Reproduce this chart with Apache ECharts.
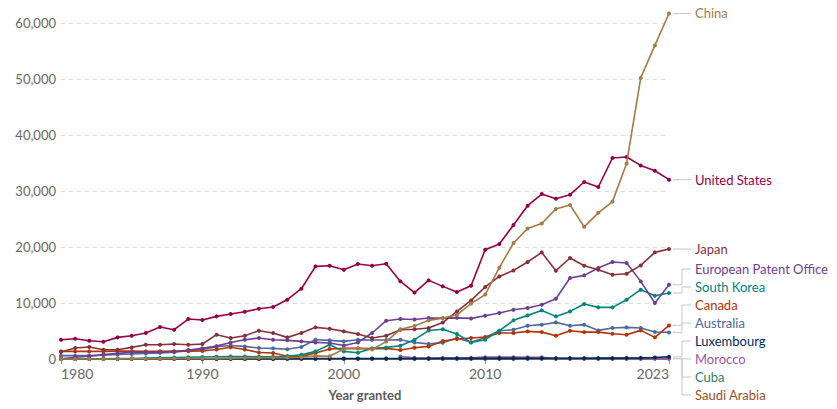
<!DOCTYPE html>
<html>
<head>
<meta charset="utf-8">
<title>Patents granted</title>
<script src="https://cdn.jsdelivr.net/npm/echarts@6/dist/echarts.min.js"></script>
<style>
  html, body { margin: 0; padding: 0; background: #fff; }
  #chart { width: 837px; height: 409px; }
</style>
</head>
<body>
<div id="chart"></div>
<script>
// years 1980 .. 2023
var years = [];
for (var y = 1980; y <= 2023; y++) years.push(y);

var xTicks = [1980, 1990, 2000, 2010, 2023];

var seriesNames = ['China', 'United States', 'Japan', 'European Patent Office', 'South Korea',
  'Canada', 'Australia', 'Luxembourg', 'Morocco', 'Cuba', 'Saudi Arabia'];

var colors = ['#A57A45', '#970046', '#883039', '#6D3E91', '#00847E',
  '#B13507', '#4C6A9C', '#00295B', '#A2559C', '#2C8465', '#9A5129'];

var china = [0, 0, 0, 10, 20, 40, 50, 60, 80, 100,
  100, 120, 150, 180, 200, 220, 250, 300, 550, 500,
  1800, 1900, 1700, 3100, 5300, 5900, 6900, 7300, 7900, 9900,
  11500, 16300, 20700, 23300, 24200, 26800, 27500, 23600, 26100, 28100,
  34900, 50200, 56000, 61700];

var unitedStates = [3450, 3620, 3270, 3090, 3860, 4160, 4640, 5710, 5230, 7140,
  6960, 7610, 8040, 8450, 8980, 9290, 10590, 12550, 16540, 16660,
  15950, 16960, 16660, 17020, 13860, 11850, 14040, 12970, 11960, 13090,
  19520, 20540, 23930, 27380, 29460, 28630, 29340, 31610, 30710, 35890,
  36070, 34570, 33620, 32020];

var japan = [1250, 1960, 2140, 1660, 1660, 2070, 2550, 2550, 2680, 2550,
  2680, 4340, 3750, 4160, 5050, 4640, 3860, 4640, 5650, 5410,
  4930, 4460, 3750, 4160, 5230, 5300, 5530, 6500, 8500, 10460,
  12860, 14750, 15820, 17320, 19040, 15770, 18040, 16660, 15950, 15050,
  15230, 16710, 19040, 19640];

var epo = [50, 300, 500, 800, 1000, 1200, 1200, 1200, 1300, 1600,
  1900, 2300, 2950, 3450, 3750, 3450, 3330, 3150, 2960, 2860,
  2400, 2960, 4640, 6840, 7150, 7050, 7320, 7300, 7350, 7250,
  7730, 8210, 8800, 9110, 9700, 10770, 14460, 14930, 16250, 17320,
  17140, 13860, 10000, 13270];

var southKorea = [0, 0, 0, 50, 80, 100, 150, 200, 250, 300,
  350, 400, 450, 450, 400, 400, 500, 770, 1360, 2550,
  1360, 1130, 1870, 2070, 2380, 3450, 5080, 5300, 4460, 2960,
  3450, 5050, 6900, 7790, 8680, 7610, 8500, 9820, 9220, 9220,
  10590, 12380, 11300, 11790];

var canada = [1360, 1360, 1360, 1360, 1400, 1400, 1360, 1360, 1400, 1400,
  1430, 1700, 2100, 1700, 1150, 1070, 500, 470, 1070, 1790,
  1900, 1900, 1850, 1900, 1600, 2000, 2250, 3200, 3570, 3750,
  3930, 4640, 4640, 4930, 4800, 4160, 5050, 4800, 4800, 4520,
  4340, 5110, 3860, 6000];

var australia = [600, 600, 600, 700, 800, 900, 1000, 1100, 1200, 1500,
  1700, 2200, 2400, 2250, 1960, 1900, 1750, 2140, 3450, 3330,
  3150, 3450, 3400, 3400, 3450, 2960, 2700, 2900, 3750, 3000,
  3860, 5050, 5230, 5950, 6130, 6540, 5950, 6130, 5110, 5530,
  5650, 5530, 4820, 4750];

var luxembourg = [30, 30, 30, 30, 40, 40, 40, 40, 50, 50,
  50, 50, 60, 60, 60, 60, 70, 70, 80, 80,
  80, 90, 90, 100, 100, 100, 100, 110, 110, 110,
  120, 120, 120, 130, 130, 130, 140, 140, 150, 150,
  160, 200, 260, 400];

var morocco = ['-', '-', '-', '-', '-', '-', '-', '-', '-', '-',
  '-', '-', '-', '-', '-', '-', '-', '-', '-', '-',
  '-', '-', '-', '-', 450, 200, 150, 150, 150, 200,
  330, 330, 330, 300, 300, 80, 80, 90, 90, 90,
  100, 100, 110, 120];

var cuba = [20, 20, 20, 20, 20, 20, 30, 30, 30, 30,
  30, 30, 30, 30, 40, 40, 40, 40, 40, 40,
  50, 50, 50, 50, 50, 50, 50, 60, 60, 60,
  60, 60, 60, 60, 70, 70, 70, 70, 70, 70,
  80, 80, 80, 80];

var saudiArabia = [0, 0, 0, 0, 0, 0, 0, 0, 0, 0,
  0, 0, 0, 0, 0, 0, 0, 10, 10, 10,
  10, 10, 10, 10, 20, 20, 20, 20, 20, 20,
  20, 30, 30, 30, 30, 30, 30, 30, 40, 40,
  40, 40, 40, 40];

var seriesValues = [china, unitedStates, japan, epo, southKorea, canada,
  australia, luxembourg, morocco, cuba, saudiArabia];

var FONT = 'Lato, "Noto Sans", sans-serif';
var labelPos = {};

var chart = echarts.init(document.getElementById('chart'), null, { renderer: 'svg' });

function buildSeries() {
  return seriesNames.map(function (name, i) {
    var vals = seriesValues[i];
    var last = vals.length - 1;
    var data = vals.map(function (v, k) {
      var item = { value: [years[k], v] };
      if (k === last) item.label = { show: true };
      return item;
    });
    return {
      name: name,
      type: 'line',
      data: data,
      clip: false,
      color: colors[i],
      symbol: 'circle',
      symbolSize: 4,
      showSymbol: true,
      connectNulls: false,
      lineStyle: { width: 1.6, color: colors[i] },
      itemStyle: { color: colors[i] },
      label: {
        show: false,
        formatter: name,
        color: colors[i],
        fontFamily: FONT,
        fontSize: 13
      },
      labelLayout: function (params) {
        var p = labelPos[params.seriesIndex];
        if (!p) return {};
        return { x: p.lx, y: p.ly, align: 'left', verticalAlign: 'middle' };
      },
      z: 20 - i
    };
  });
}

var option = {
  animation: false,
  backgroundColor: '#fff',
  grid: { left: 61, right: 168, top: 23, bottom: 50, containLabel: false },
  xAxis: {
    type: 'value',
    min: 1980,
    max: 2023,
    name: 'Year granted',
    nameLocation: 'middle',
    nameGap: 29,
    nameTextStyle: { color: '#5b5b5b', fontFamily: FONT, fontSize: 13, fontWeight: 'bold' },
    axisLine: { show: true, lineStyle: { color: '#999' } },
    axisTick: { show: true, customValues: xTicks, length: 5, lineStyle: { color: '#999' } },
    axisLabel: {
      customValues: xTicks,
      color: '#666',
      fontFamily: FONT,
      fontSize: 14,
      margin: 7,
      alignMinLabel: 'left',
      alignMaxLabel: 'right',
      formatter: function (v) { return String(v); }
    },
    splitLine: { show: false }
  },
  yAxis: {
    type: 'value',
    min: 0,
    max: 60000,
    interval: 10000,
    axisLine: { show: false },
    axisTick: { show: false },
    axisLabel: {
      color: '#666',
      fontFamily: FONT,
      fontSize: 13,
      margin: 5,
      formatter: function (v) { return v.toLocaleString('en-US'); }
    },
    splitLine: { show: true, lineStyle: { color: '#dcdcdc', type: [4, 4] } }
  },
  series: buildSeries()
};

chart.setOption(option);

// place end labels: start at the last point, then spread so they don't overlap
var items = seriesNames.map(function (name, i) {
  var vals = seriesValues[i];
  var v = vals[vals.length - 1];
  var pt = chart.convertToPixel({ xAxisIndex: 0, yAxisIndex: 0 }, [years[years.length - 1], v]);
  return { i: i, px: pt[0], py: pt[1], ly: pt[1] };
});
var sorted = items.slice().sort(function (a, b) { return a.py - b.py || a.i - b.i; });
var gap = 18, bottomLimit = 409 - 14;
for (var k = 1; k < sorted.length; k++) {
  sorted[k].ly = Math.max(sorted[k].ly, sorted[k - 1].ly + gap);
}
if (sorted[sorted.length - 1].ly > bottomLimit) sorted[sorted.length - 1].ly = bottomLimit;
for (var k = sorted.length - 2; k >= 0; k--) {
  sorted[k].ly = Math.min(sorted[k].ly, sorted[k + 1].ly - gap);
}

var connectors = [];
items.forEach(function (it) {
  var ex = it.px + 13, lx = it.px + 26;
  labelPos[it.i] = { ly: it.ly, lx: lx };
  var pts = Math.abs(it.ly - it.py) < 1
    ? [[it.px + 4, it.py], [lx - 4, it.ly]]
    : [[it.px + 4, it.py], [ex, it.py], [ex, it.ly], [lx - 4, it.ly]];
  connectors.push({
    type: 'polyline',
    silent: true,
    z: 1,
    shape: { points: pts },
    style: { stroke: '#c8c8c8', lineWidth: 1, fill: null }
  });
});

option.series = buildSeries();
option.graphic = connectors;
chart.setOption(option, true);
</script>
</body>
</html>
